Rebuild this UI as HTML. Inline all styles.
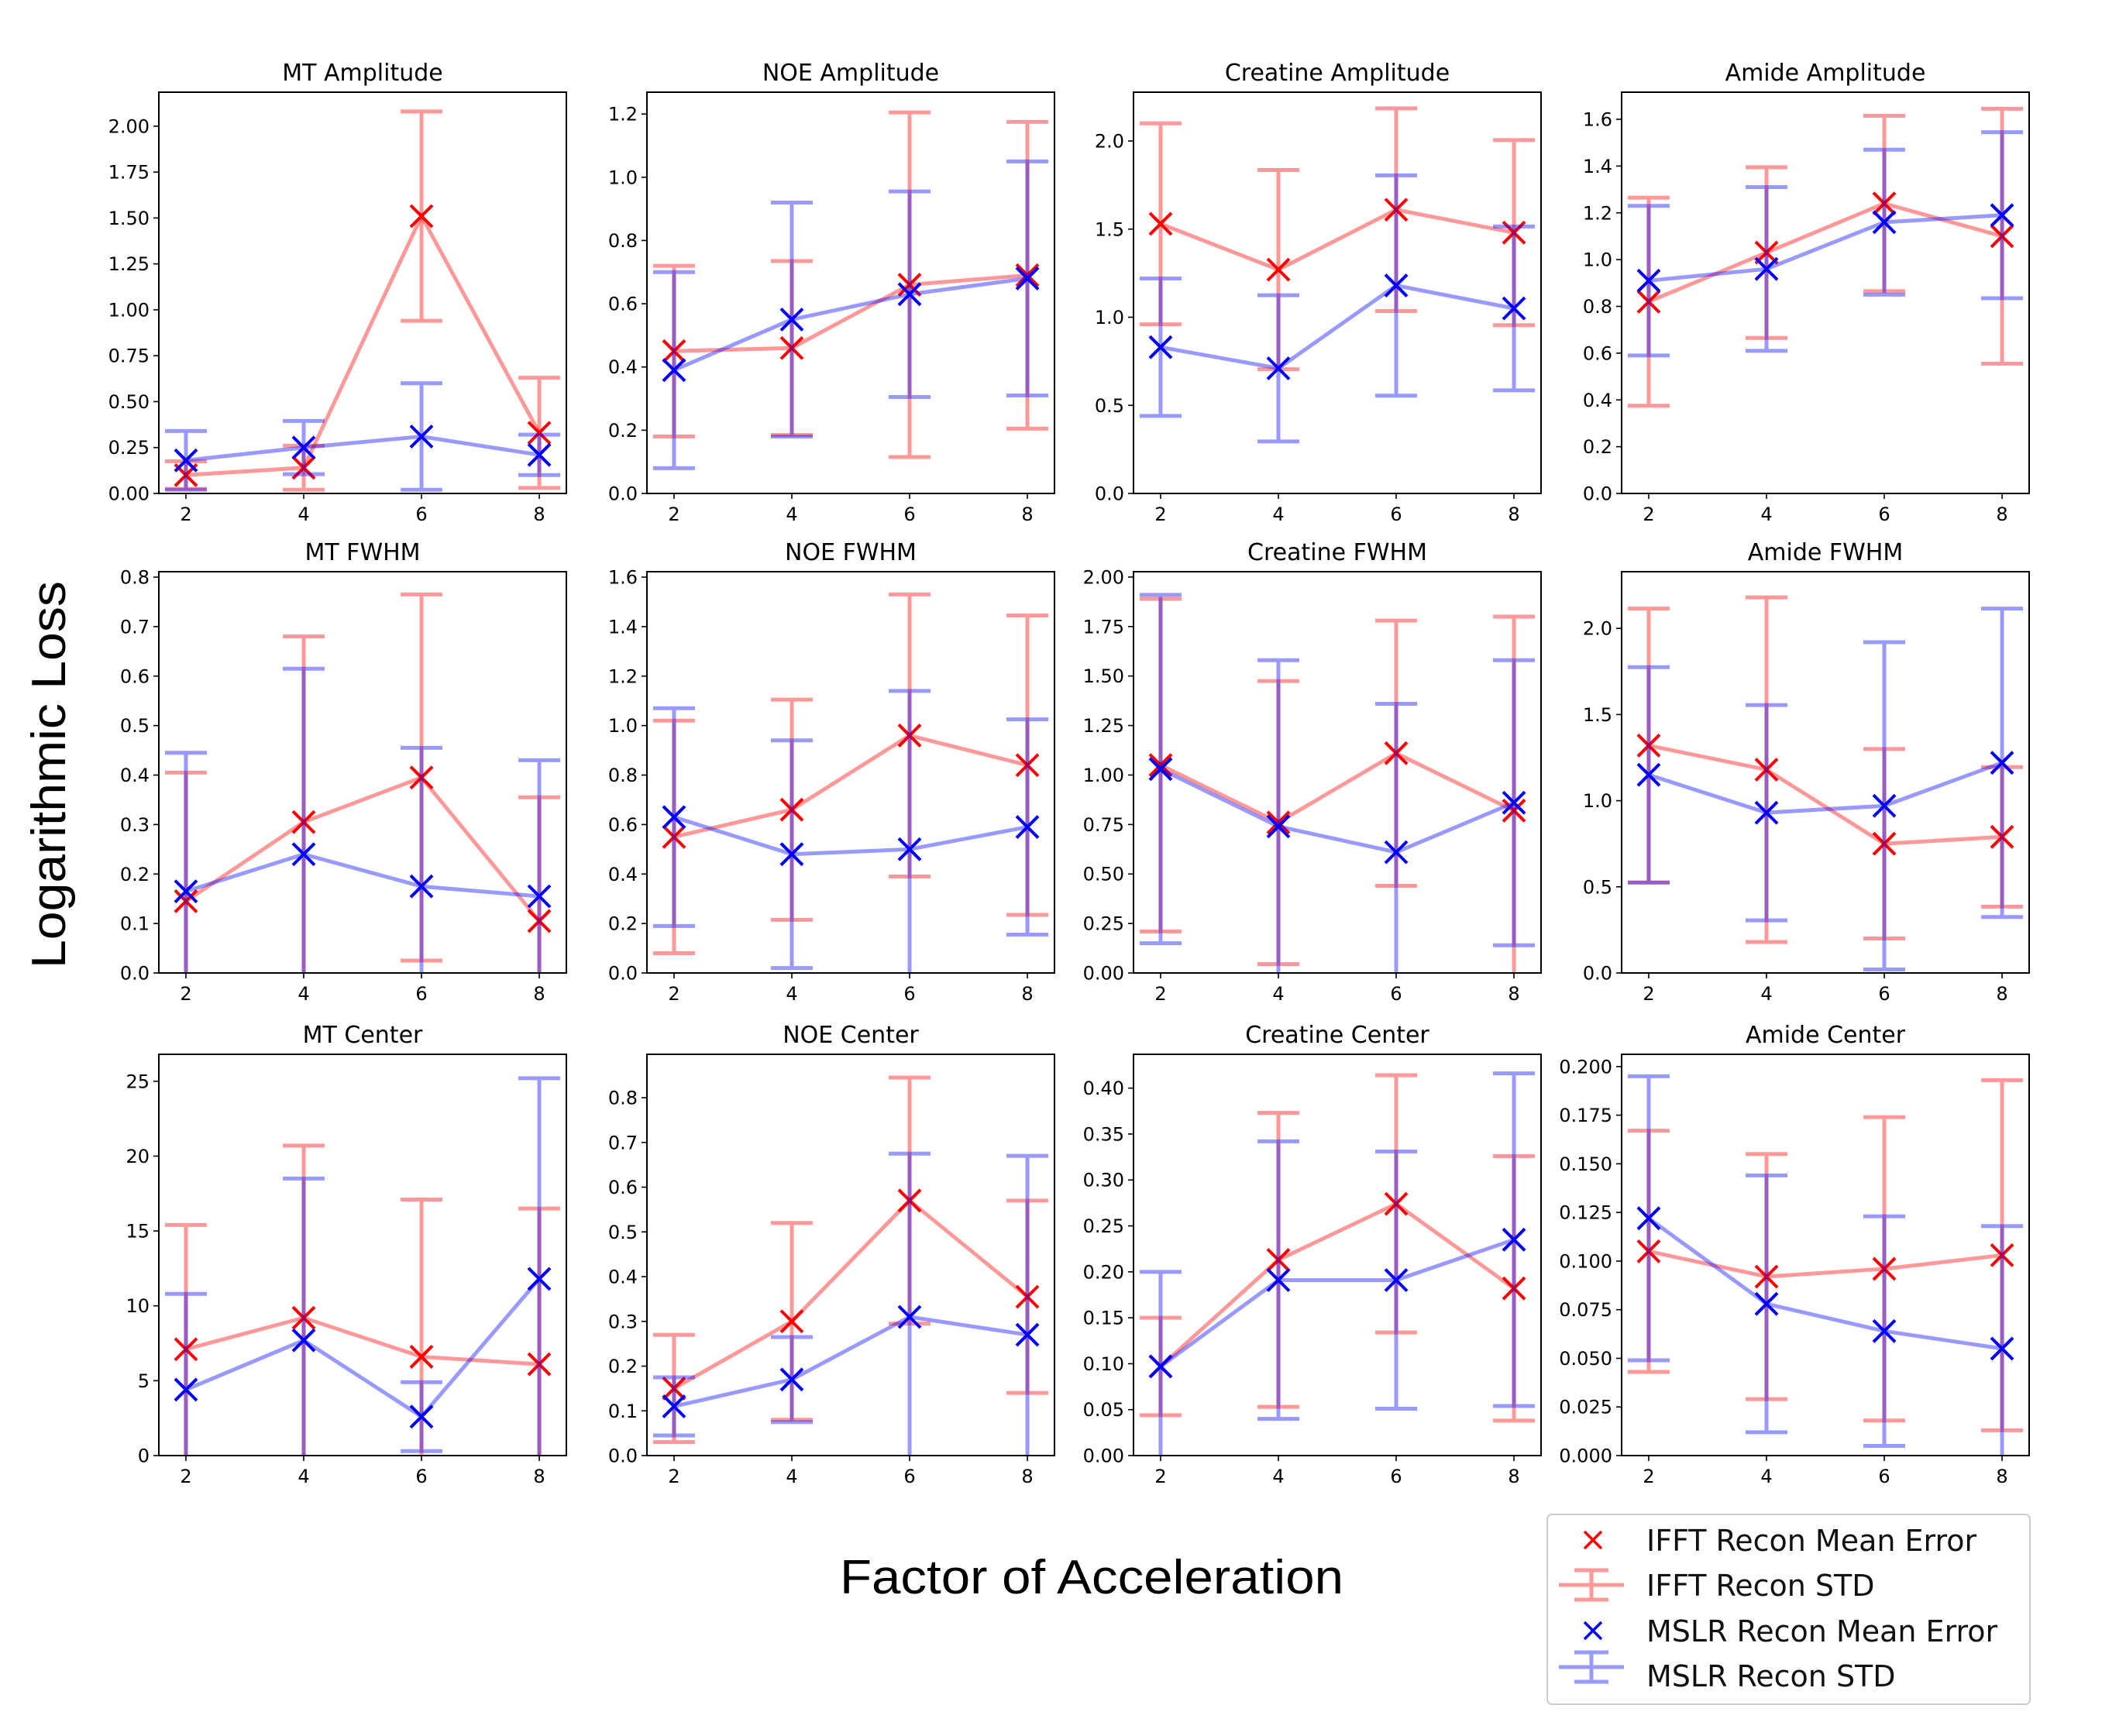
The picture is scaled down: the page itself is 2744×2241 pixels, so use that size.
<!DOCTYPE html>
<html><head><meta charset="utf-8">
<style>
html,body{margin:0;padding:0;background:#fff;}
svg{display:block;font-family:"DejaVu Sans","Liberation Sans",sans-serif;}
</style></head>
<body>
<svg id="fig" width="2744" height="2241" viewBox="0 0 2744 2241" xmlns="http://www.w3.org/2000/svg">
<rect width="2744" height="2241" fill="#fff"/>
<text x="0" y="0" transform="translate(84,1000) rotate(-90)" text-anchor="middle" font-size="62" textLength="500" lengthAdjust="spacingAndGlyphs" font-family="Liberation Sans, sans-serif" fill="#000">Logarithmic Loss</text>
<text x="1409" y="2057" text-anchor="middle" font-size="62" textLength="650" lengthAdjust="spacingAndGlyphs" font-family="Liberation Sans, sans-serif" fill="#000">Factor of Acceleration</text>
<g id="panels"></g>
<g>
  <rect x="1997" y="1955" width="623" height="245" rx="6" fill="#fff" stroke="#ccc" stroke-width="2"/>
  <g>
    <path d="M2045 1977 L2067 1999 M2067 1977 L2045 1999" stroke="#f00" stroke-width="3.5"/>
    <text x="2125" y="2002" font-size="38" fill="#111">IFFT Recon Mean Error</text>
  </g>
  <g>
    <path d="M2012 2046 L2096 2046 M2054 2027 L2054 2065 M2032 2027 L2076 2027 M2032 2065 L2076 2065" stroke="rgba(255,0,0,0.4)" stroke-width="5"/>
    <text x="2125" y="2060" font-size="38" fill="#111">IFFT Recon STD</text>
  </g>
  <g>
    <path d="M2045 2094 L2067 2116 M2067 2094 L2045 2116" stroke="#00f" stroke-width="3.5"/>
    <text x="2125" y="2119" font-size="38" fill="#111">MSLR Recon Mean Error</text>
  </g>
  <g>
    <path d="M2012 2152 L2096 2152 M2054 2133 L2054 2171 M2032 2133 L2076 2133 M2032 2171 L2076 2171" stroke="rgba(0,0,255,0.4)" stroke-width="5"/>
    <text x="2125" y="2177" font-size="38" fill="#111">MSLR Recon STD</text>
  </g>
</g>
</svg>
<script>
const categories = [2, 4, 6, 8];
const titles = ["MT Amplitude","NOE Amplitude","Creatine Amplitude","Amide Amplitude","MT FWHM","NOE FWHM","Creatine FWHM","Amide FWHM","MT Center","NOE Center","Creatine Center","Amide Center"];
const yMax = [2.185,1.269,2.277,1.716,0.811,1.622,2.027,2.329,26.8,0.897,0.4368,0.2063];
const yTickStep = [0.25,0.2,0.5,0.2,0.1,0.2,0.25,0.5,5,0.1,0.05,0.025];
const yTickDecimals = [2,1,1,1,1,1,2,1,0,1,2,3];
const ifftMean = [
 [0.10,0.14,1.51,0.33],[0.45,0.46,0.66,0.69],[1.53,1.27,1.61,1.48],[0.82,1.03,1.24,1.10],
 [0.145,0.305,0.395,0.105],[0.55,0.66,0.96,0.84],[1.05,0.76,1.11,0.82],[1.32,1.18,0.75,0.79],
 [7.1,9.2,6.6,6.1],[0.15,0.30,0.57,0.355],[0.097,0.213,0.274,0.182],[0.105,0.092,0.096,0.103]];
const ifftStd = [
 [0.075,0.12,0.57,0.30],[0.27,0.275,0.545,0.485],[0.57,0.565,0.575,0.525],[0.445,0.365,0.375,0.545],
 [0.26,0.375,0.37,0.25],[0.47,0.445,0.57,0.605],[0.84,0.715,0.67,0.98],[0.795,1.0,0.55,0.405],
 [8.3,11.5,10.5,10.4],[0.12,0.22,0.275,0.215],[0.053,0.16,0.14,0.144],[0.062,0.063,0.078,0.09]];
const mslrMean = [
 [0.18,0.25,0.31,0.21],[0.39,0.55,0.63,0.68],[0.83,0.71,1.18,1.05],[0.91,0.96,1.16,1.19],
 [0.165,0.24,0.175,0.155],[0.63,0.48,0.50,0.59],[1.03,0.74,0.61,0.86],[1.15,0.93,0.97,1.22],
 [4.4,7.7,2.6,11.8],[0.11,0.17,0.31,0.27],[0.097,0.191,0.191,0.235],[0.122,0.078,0.064,0.055]];
const mslrStd = [
 [0.16,0.145,0.29,0.11],[0.31,0.37,0.325,0.37],[0.39,0.415,0.625,0.465],[0.32,0.35,0.31,0.355],
 [0.28,0.375,0.28,0.275],[0.44,0.46,0.64,0.435],[0.88,0.84,0.75,0.72],[0.625,0.625,0.95,0.895],
 [6.4,10.8,2.3,13.4],[0.065,0.095,0.365,0.40],[0.103,0.151,0.14,0.181],[0.073,0.066,0.059,0.063]];

const NS = "http://www.w3.org/2000/svg";
const colLeft = [205, 835, 1463, 2093];
const rowTop = [119, 738, 1361];
const PW = 526, PH = 518;
const XMIN = 1.54, XMAX = 8.46;
const root = document.getElementById('panels');
function mk(tag, attrs, parent){
  const e = document.createElementNS(NS, tag);
  for (const k in attrs) e.setAttribute(k, attrs[k]);
  if (parent) parent.appendChild(e);
  return e;
}
titles.forEach((title, p) => {
  const L = colLeft[p % 4], T = rowTop[Math.floor(p / 4)];
  const xs = v => L + (v - XMIN) / (XMAX - XMIN) * PW;
  const ys = v => T + PH - v / yMax[p] * PH;
  const g = mk('g', {}, root);
  
  
  const t = mk('text', {x: L + PW / 2, y: T - 15, 'text-anchor': 'middle', 'font-size': 30, fill: '#000'}, g);
  t.textContent = title;
  
  
  const cp = mk('clipPath', {id: 'c' + p}, g);
  mk('rect', {x: L, y: T, width: PW, height: PH}, cp);
  categories.forEach(c => {
    mk('line', {x1: xs(c), x2: xs(c), y1: T + PH, y2: T + PH + 7, stroke: '#000', 'stroke-width': 1.6}, g);
    const tl = mk('text', {x: xs(c), y: T + PH + 35, 'text-anchor': 'middle', 'font-size': 24, fill: '#000'}, g);
    tl.textContent = c;
    
    
  });
  const n = Math.floor(yMax[p] / yTickStep[p] + 1e-9);
  for (let i = 0; i <= n; i++) {
    const v = i * yTickStep[p];
    mk('line', {x1: L - 7, x2: L, y1: ys(v), y2: ys(v), stroke: '#000', 'stroke-width': 1.6}, g);
    const tl = mk('text', {x: L - 12, y: ys(v) + 8.5, 'text-anchor': 'end', 'font-size': 24, fill: '#000'}, g);
    tl.textContent = v.toFixed(yTickDecimals[p]);
    
    
  }
  const series = [[ifftMean[p], ifftStd[p], 'rgba(255,0,0,0.4)', '#f00', 'ifft'], [mslrMean[p], mslrStd[p], 'rgba(0,0,255,0.4)', '#00f', 'mslr']];
  series.forEach(([m, s, lc, mc, nm]) => {
    const sg = mk('g', {'clip-path': 'url(#c' + p + ')'}, g);
    
    
    const pts = categories.map((c, i) => xs(c) + ',' + ys(m[i])).join(' ');
    const pl = mk('polyline', {points: pts, fill: 'none', stroke: lc, 'stroke-width': 5}, sg);
    
    
    categories.forEach((c, i) => {
      const x = xs(c), y1 = ys(m[i] - s[i]), y2 = ys(m[i] + s[i]);
      const eb = mk('path', {d: `M${x} ${y1} L${x} ${y2} M${x-27} ${y1} L${x+27} ${y1} M${x-27} ${y2} L${x+27} ${y2}`, stroke: lc, 'stroke-width': 5, fill: 'none'}, sg);
      
      
    });
    categories.forEach((c, i) => {
      const x = xs(c), y = ys(m[i]), r = 14;
      const mkr = mk('path', {d: `M${x-r} ${y-r} L${x+r} ${y+r} M${x+r} ${y-r} L${x-r} ${y+r}`, stroke: mc, 'stroke-width': 4}, g);
      
      
    });
  });
  mk('rect', {x: L, y: T, width: PW, height: PH, fill: 'none', stroke: '#000', 'stroke-width': 2}, g);
});
</script>
</body></html>
